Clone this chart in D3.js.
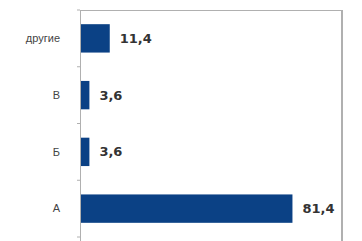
<!DOCTYPE html>
<html>
<head>
<meta charset="utf-8">
<script src="https://cdn.jsdelivr.net/npm/d3@7"></script>
<style>
  body { margin: 0; background: #fff; }
  svg { display: block; }
</style>
</head>
<body>
<div id="container"></div>
<script>
const categories = ['другие', 'В', 'Б', 'А'];
const values = [11.4, 3.6, 3.6, 81.4];
const valueLabels = ['11,4', '3,6', '3,6', '81,4'];

const width = 362, height = 241;
const margin = { top: 10, right: 21, bottom: 4, left: 80 };
const innerW = width - margin.left - margin.right;
const innerH = height - margin.top - margin.bottom;

const svg = d3.select('#container')
  .append('svg')
  .attr('width', width)
  .attr('height', height);

const g = svg.append('g')
  .attr('transform', `translate(${margin.left}, ${margin.top})`);

const x = d3.scaleLinear().domain([0, 100]).range([0, innerW]);
const y = d3.scaleBand().domain(categories).range([0, innerH])
  .paddingInner(0.5).paddingOuter(0.25);

const frameColor = '#b0b0b0';

// frame: top and right lines
g.append('rect')
  .attr('x', 0).attr('y', 0)
  .attr('width', innerW + 1).attr('height', 1)
  .attr('fill', frameColor);
g.append('rect')
  .attr('x', innerW).attr('y', 0)
  .attr('width', 2).attr('height', innerH + 4)
  .attr('fill', frameColor);

// left axis with ticks between categories
const axis = g.append('g');
axis.append('rect')
  .attr('x', 0).attr('y', 0)
  .attr('width', 1).attr('height', innerH + 4)
  .attr('fill', frameColor);
const step = y.step();
d3.range(categories.length + 1).forEach(i => {
  axis.append('line')
    .attr('x1', -3).attr('x2', 0)
    .attr('y1', i * step).attr('y2', i * step)
    .attr('stroke', frameColor);
});

// category labels
g.selectAll('.cat')
  .data(categories)
  .enter()
  .append('text')
  .attr('class', 'cat')
  .attr('x', -20)
  .attr('y', d => y(d) + y.bandwidth() / 2)
  .attr('dy', '0.35em')
  .attr('text-anchor', 'end')
  .attr('font-family', 'Liberation Sans, Arial, sans-serif')
  .attr('font-size', 11)
  .attr('fill', '#444')
  .text(d => d);

// bars
g.selectAll('.bar')
  .data(categories)
  .enter()
  .append('rect')
  .attr('class', 'bar')
  .attr('x', 1)
  .attr('y', d => y(d))
  .attr('width', (d, i) => x(values[i]) - 1)
  .attr('height', y.bandwidth())
  .attr('fill', '#0b4185');

// value labels
g.selectAll('.val')
  .data(categories)
  .enter()
  .append('text')
  .attr('class', 'val')
  .attr('x', (d, i) => x(values[i]) + 10)
  .attr('y', d => y(d) + y.bandwidth() / 2)
  .attr('dy', '0.35em')
  .attr('font-family', 'DejaVu Sans, sans-serif')
  .attr('font-size', 13)
  .attr('font-weight', 'bold')
  .attr('fill', '#333')
  .text((d, i) => valueLabels[i]);
</script>
</body>
</html>
